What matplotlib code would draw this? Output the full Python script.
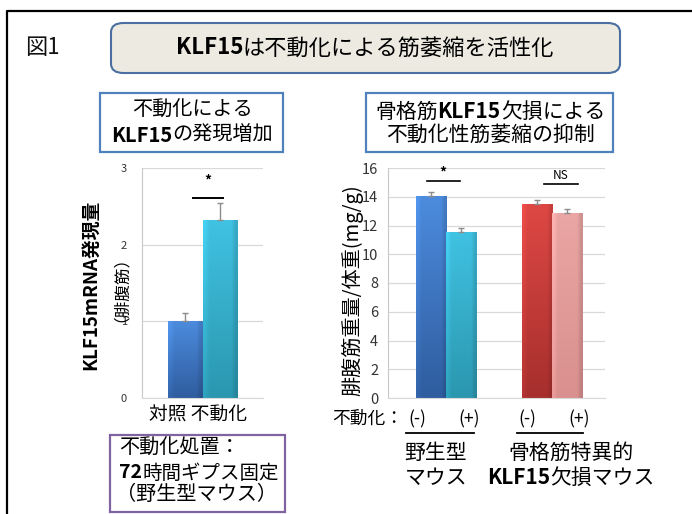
import matplotlib
matplotlib.use("Agg")
import matplotlib.pyplot as plt
import numpy as np
from matplotlib.patches import FancyBboxPatch, Rectangle
from matplotlib.lines import Line2D
from matplotlib.colors import to_rgb

plt.rcParams['font.family'] = ['Noto Sans CJK JP', 'DejaVu Sans']

# ---------------- data ----------------
left_categories = ["対照", "不動化"]
left_values = [1.00, 2.32]
left_errors = [0.11, 0.22]

right_labels = ["(-)", "(+)", "(-)", "(+)"]
right_groups = ["野生型\nマウス", "骨格筋特異的\nKLF15欠損マウス"]
right_values = [14.05, 11.57, 13.50, 12.89]
right_errors = [0.30, 0.28, 0.27, 0.23]

left_yticks = [0, 1, 2, 3]
right_yticks = [0, 2, 4, 6, 8, 10, 12, 14, 16]

W, H = 692, 514
fig = plt.figure(figsize=(W / 100, H / 100), dpi=100)
fig.patch.set_facecolor("white")
renderer = fig.canvas.get_renderer()

def fx(px):
    return px / W

def fy(py):
    return 1 - py / H

def rich_text(px, py, segments, fontsize, ha="center"):
    """Draw a line made of (text, weight) segments."""
    texts, widths = [], []
    for s, w in segments:
        t = fig.text(0, fy(py), s, fontsize=fontsize, fontweight=w, va="center", ha="left")
        widths.append(t.get_window_extent(renderer=renderer).width)
        texts.append(t)
    total = sum(widths)
    start = px - total / 2 if ha == "center" else px
    for t, wd in zip(texts, widths):
        t.set_x(fx(start))
        start += wd

def gradient_bars(ax, bars, tops, bottoms):
    for bar, ct, cb in zip(bars, tops, bottoms):
        x0, y0 = bar.get_x(), bar.get_y()
        w, h = bar.get_width(), bar.get_height()
        t = np.array(to_rgb(ct)); b = np.array(to_rgb(cb))
        n = 64
        f = np.linspace(0, 1, n)[:, None]
        img = (t * (1 - f) + b * f)[:, None, :]
        img = np.repeat(img, 8, axis=1)
        shade = np.concatenate([np.linspace(1.08, 1.0, 2), np.ones(4), np.linspace(1.0, 0.88, 2)])
        img = np.clip(img * shade[None, :, None], 0, 1)
        im = ax.imshow(img, extent=[x0, x0 + w, y0, y0 + h], aspect="auto",
                       origin="upper", zorder=2.5, interpolation="bilinear")
        im.set_clip_path(bar)
        bar.set_facecolor("none")

def style_axes(ax, ticks, fs, pad):
    ax.set_yticks(ticks)
    ax.set_ylim(ticks[0], ticks[-1])
    ax.yaxis.grid(True, color="#D9D9D9", lw=0.9)
    ax.set_axisbelow(True)
    for s in ["top", "right"]:
        ax.spines[s].set_visible(False)
    ax.spines["left"].set_color("#C8C8C8")
    ax.spines["bottom"].set_color("#D9D9D9")
    ax.tick_params(axis="y", length=0, labelsize=fs, pad=pad, colors="#333333")
    ax.tick_params(axis="x", length=0)
    ax.set_xticks([])

# ---------------- outer frame ----------------
fig.add_artist(Line2D([fx(7), fx(7), fx(692)], [fy(514), fy(11), fy(11)],
                      color="black", lw=1.6, transform=fig.transFigure))

# ---------------- title ----------------
fig.add_artist(FancyBboxPatch((fx(111), fy(73)), fx(620) - fx(111), fy(23) - fy(73),
                              boxstyle="round,pad=0,rounding_size=0.018",
                              transform=fig.transFigure, facecolor="#EDEBE1",
                              edgecolor="#4A6FA0", lw=1.5))
rich_text(365, 48, [("KLF15", "bold"), ("は不動化による筋萎縮を活性化", "normal")], 16)
fig.text(fx(25), fy(47), "図1", ha="left", va="center", fontsize=16, color="#111111")

# ---------------- subtitle boxes ----------------
fig.add_artist(Rectangle((fx(100), fy(152)), fx(283) - fx(100), fy(93) - fy(152),
                         transform=fig.transFigure, facecolor="white",
                         edgecolor="#4F81BD", lw=1.6))
fig.text(fx(192), fy(110), "不動化による", ha="center", va="center", fontsize=14.5)
rich_text(192, 135, [("KLF15", "bold"), ("の発現増加", "normal")], 14.5)

fig.add_artist(Rectangle((fx(366), fy(152)), fx(613) - fx(366), fy(93) - fy(152),
                         transform=fig.transFigure, facecolor="white",
                         edgecolor="#4F81BD", lw=1.6))
rich_text(490, 112, [("骨格筋", "normal"), ("KLF15", "bold"), ("欠損による", "normal")], 15)
fig.text(fx(490), fy(135), "不動化性筋萎縮の抑制", ha="center", va="center", fontsize=15)

# ---------------- left chart ----------------
axL = fig.add_axes([fx(142), fy(398), fx(263) - fx(142), fy(168) - fy(398)])
xl = np.arange(len(left_values))
barsL = axL.bar(xl, left_values, width=1.0, edgecolor=["#2D5A8E", "#2A8FA8"], lw=0.6, zorder=2)
gradient_bars(axL, barsL, ["#4C8BDD", "#40C2E2"], ["#2F5D9F", "#2B97AF"])
axL.errorbar(xl, left_values, yerr=[np.zeros(len(left_errors)), left_errors],
             fmt="none", ecolor="#8C8C8C", elinewidth=1.0, capsize=2.5, capthick=1.0, zorder=3)
axL.set_xlim(-1.23, 2.23)
style_axes(axL, left_yticks, 8, 11)
axL.plot([0.23, 1.08], [2.61, 2.61], color="black", lw=1.4)
axL.text(0.66, 2.83, "*", ha="center", va="center", fontsize=10, fontweight="bold")
fig.text(fx(198), fy(415), " ".join(left_categories), ha="center", va="center", fontsize=13.5)

fig.text(fx(91), fy(285), "KLF15mRNA発現量", rotation=90, ha="center", va="center",
         fontsize=13.5, fontweight="bold")
fig.text(fx(112), fy(280), "（腓腹筋）", rotation=90, ha="center", va="center", fontsize=12)

# ---------------- right chart ----------------
axR = fig.add_axes([fx(388), fy(398), fx(605) - fx(388), fy(168) - fy(398)])
group_gap = 2.55
xr = np.array([0, 1, 1 + group_gap, 2 + group_gap])
barsR = axR.bar(xr, right_values, width=1.0, lw=0.6, zorder=2,
                edgecolor=["#2D5A8E", "#2A8FA8", "#962A28", "#C98482"])
gradient_bars(axR, barsR, ["#4C8BDD", "#40C2E2", "#DE4844", "#EAA6A4"],
              ["#2F5D9F", "#2B97AF", "#A62F2D", "#D9908E"])
axR.errorbar(xr, right_values, yerr=[np.zeros(len(right_errors)), right_errors],
             fmt="none", ecolor="#8C8C8C", elinewidth=1.0, capsize=2.5, capthick=1.0, zorder=3)
axR.set_xlim(-1.43, 5.8)
style_axes(axR, right_yticks, 10.5, 7)
axR.plot([-0.13, 0.97], [15.12, 15.12], color="black", lw=1.2)
axR.text(0.4, 15.65, "*", ha="center", va="center", fontsize=10, fontweight="bold")
axR.plot([3.77, 4.9], [14.9, 14.9], color="black", lw=1.2)
axR.text(4.33, 15.45, "NS", ha="center", va="center", fontsize=8.5)

fig.text(fx(352), fy(290), "腓腹筋重量/体重(mg/g)", rotation=90, ha="center", va="center",
         fontsize=14.5)

# bottom labels for right chart
fig.text(fx(332), fy(419), "不動化：", ha="left", va="center", fontsize=12.8)
for px, lab in zip([417, 469, 527, 579], right_labels):
    fig.text(fx(px), fy(419), lab, ha="center", va="center", fontsize=12.5)
fig.add_artist(Line2D([fx(406), fx(474)], [fy(433), fy(433)], color="black", lw=1.3,
                      transform=fig.transFigure))
fig.add_artist(Line2D([fx(517), fx(583)], [fy(433), fy(433)], color="black", lw=1.3,
                      transform=fig.transFigure))
g1a, g1b = right_groups[0].split("\n")
g2a, g2b = right_groups[1].split("\n")
fig.text(fx(436), fy(453), g1a, ha="center", va="center", fontsize=15)
fig.text(fx(436), fy(478), g1b, ha="center", va="center", fontsize=15)
fig.text(fx(571), fy(453), g2a, ha="center", va="center", fontsize=15)
rich_text(571, 478, [(g2b[:5], "bold"), (g2b[5:], "normal")], 15)

# ---------------- note box ----------------
fig.add_artist(Rectangle((fx(110), fy(512)), fx(285) - fx(110), fy(435) - fy(512),
                         transform=fig.transFigure, facecolor="white",
                         edgecolor="#8064A2", lw=1.6))
fig.text(fx(119), fy(448), "不動化処置：", ha="left", va="center", fontsize=14.5)
rich_text(119, 473, [("72", "bold"), ("時間ギプス固定", "normal")], 14, ha="left")
fig.text(fx(116), fy(495), "（野生型マウス）", ha="left", va="center", fontsize=14.5)

fig.savefig("out.png", dpi=100)
